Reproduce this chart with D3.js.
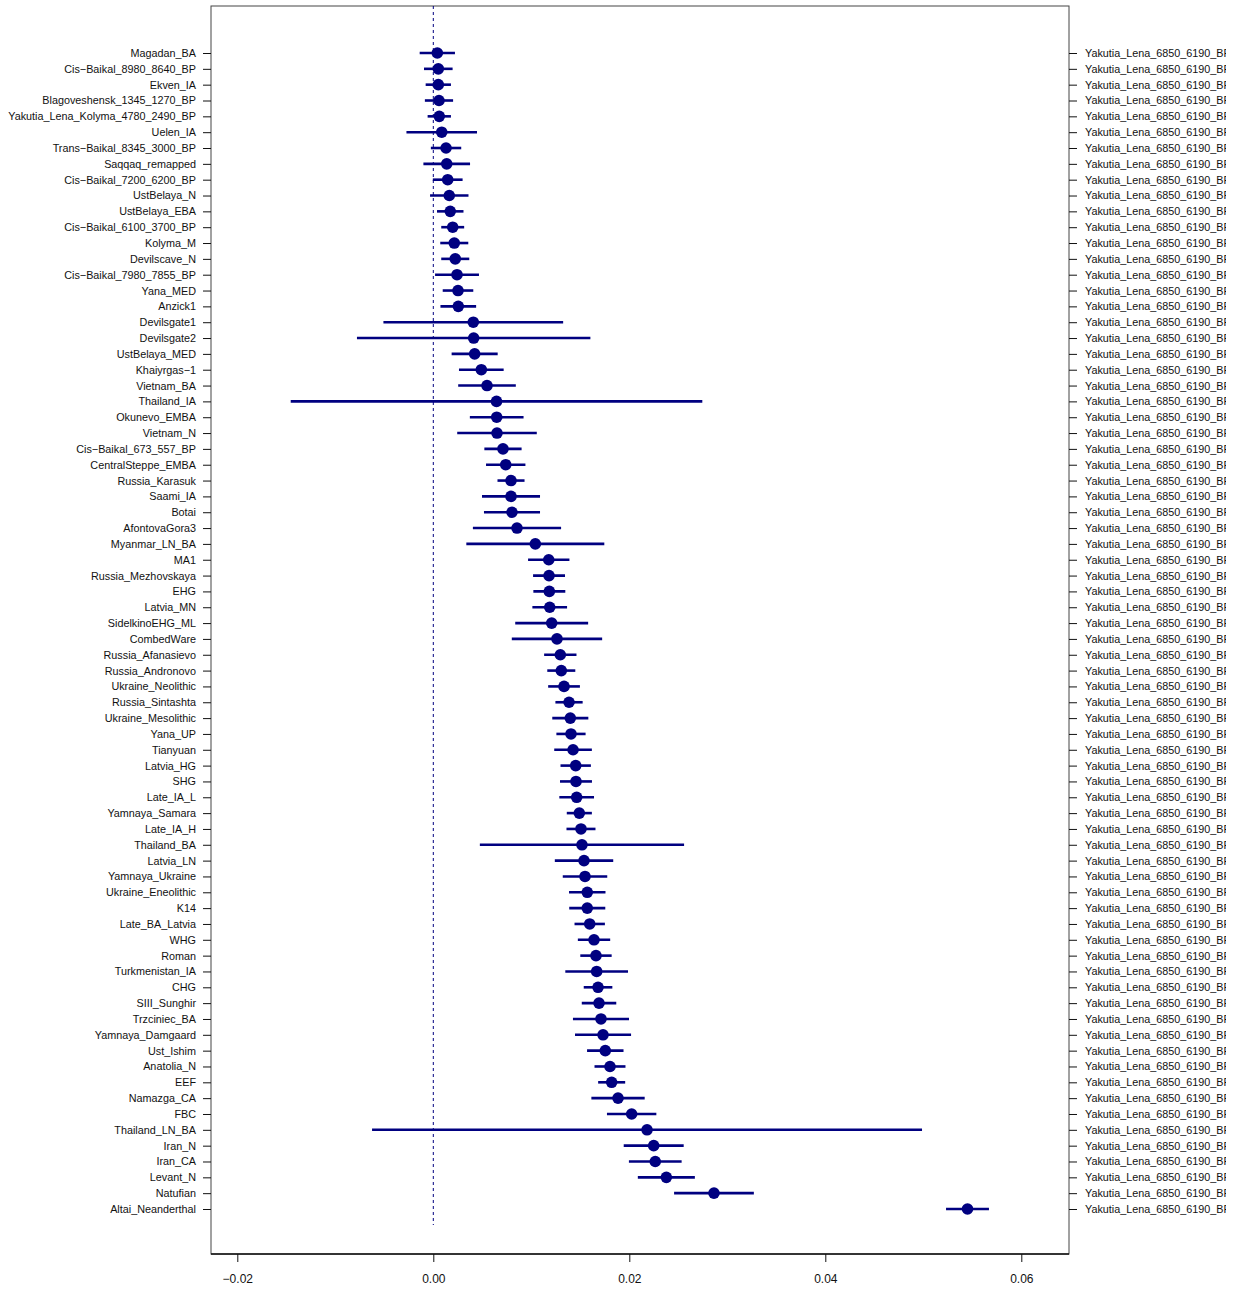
<!DOCTYPE html>
<html>
<head>
<meta charset="utf-8">
<script src="https://cdn.jsdelivr.net/npm/d3@7"></script>
<style>
  body { margin: 0; background: #fff; }
  text { font-family: "Liberation Sans", Arial, Helvetica, sans-serif; fill: #111; }
</style>
</head>
<body>
<div id="dot-chart"></div>
<script>
// population names, top to bottom
var populations = [
  "Magadan_BA", "Cis-Baikal_8980_8640_BP", "Ekven_IA", "Blagoveshensk_1345_1270_BP",
  "Yakutia_Lena_Kolyma_4780_2490_BP", "Uelen_IA", "Trans-Baikal_8345_3000_BP", "Saqqaq_remapped",
  "Cis-Baikal_7200_6200_BP", "UstBelaya_N", "UstBelaya_EBA", "Cis-Baikal_6100_3700_BP",
  "Kolyma_M", "Devilscave_N", "Cis-Baikal_7980_7855_BP", "Yana_MED", "Anzick1",
  "Devilsgate1", "Devilsgate2", "UstBelaya_MED", "Khaiyrgas-1", "Vietnam_BA", "Thailand_IA",
  "Okunevo_EMBA", "Vietnam_N", "Cis-Baikal_673_557_BP", "CentralSteppe_EMBA", "Russia_Karasuk",
  "Saami_IA", "Botai", "AfontovaGora3", "Myanmar_LN_BA", "MA1", "Russia_Mezhovskaya", "EHG",
  "Latvia_MN", "SidelkinoEHG_ML", "CombedWare", "Russia_Afanasievo", "Russia_Andronovo",
  "Ukraine_Neolithic", "Russia_Sintashta", "Ukraine_Mesolithic", "Yana_UP", "Tianyuan",
  "Latvia_HG", "SHG", "Late_IA_L", "Yamnaya_Samara", "Late_IA_H", "Thailand_BA", "Latvia_LN",
  "Yamnaya_Ukraine", "Ukraine_Eneolithic", "K14", "Late_BA_Latvia", "WHG", "Roman",
  "Turkmenistan_IA", "CHG", "SIII_Sunghir", "Trzciniec_BA", "Yamnaya_Damgaard", "Ust_Ishim",
  "Anatolia_N", "EEF", "Namazga_CA", "FBC", "Thailand_LN_BA", "Iran_N", "Iran_CA", "Levant_N",
  "Natufian", "Altai_Neanderthal"
];

// the fixed comparison population shown on the right
var reference = "Yakutia_Lena_6850_6190_BP";

// point estimates
var estimates = [
  0.00041, 0.00051, 0.00051, 0.00058, 0.00061, 0.00086, 0.00130, 0.00137, 0.00147, 0.00163,
  0.00173, 0.00198, 0.00214, 0.00224, 0.00242, 0.00252, 0.00255, 0.00408, 0.00412, 0.00422,
  0.00490, 0.00548, 0.00645, 0.00647, 0.00650, 0.00711, 0.00739, 0.00793, 0.00793, 0.00803,
  0.00854, 0.01041, 0.01178, 0.01181, 0.01184, 0.01188, 0.01208, 0.01262, 0.01296, 0.01306,
  0.01334, 0.01385, 0.01398, 0.01405, 0.01426, 0.01453, 0.01456, 0.01463, 0.01490, 0.01507,
  0.01517, 0.01538, 0.01548, 0.01571, 0.01571, 0.01596, 0.01640, 0.01660, 0.01667, 0.01681,
  0.01691, 0.01711, 0.01732, 0.01755, 0.01803, 0.01820, 0.01885, 0.02024, 0.02181, 0.02249,
  0.02265, 0.02378, 0.02864, 0.05451
];

// half width of each error bar
var halfWidths = [
  0.00180, 0.00146, 0.00129, 0.00144, 0.00119, 0.00360, 0.00155, 0.00238, 0.00152, 0.00196,
  0.00135, 0.00117, 0.00143, 0.00143, 0.00224, 0.00156, 0.00182, 0.00917, 0.01191, 0.00235,
  0.00228, 0.00294, 0.02100, 0.00274, 0.00406, 0.00190, 0.00201, 0.00138, 0.00296, 0.00286,
  0.00450, 0.00704, 0.00211, 0.00163, 0.00163, 0.00177, 0.00372, 0.00461, 0.00165, 0.00143,
  0.00162, 0.00139, 0.00184, 0.00149, 0.00192, 0.00155, 0.00163, 0.00177, 0.00128, 0.00148,
  0.01042, 0.00298, 0.00227, 0.00186, 0.00184, 0.00155, 0.00165, 0.00160, 0.00320, 0.00146,
  0.00176, 0.00286, 0.00286, 0.00186, 0.00158, 0.00138, 0.00272, 0.00252, 0.02806, 0.00306,
  0.00269, 0.00291, 0.00407, 0.00219
];

// x axis ticks
var xTicks = [-0.02, 0.00, 0.02, 0.04, 0.06];

// constructor for the dot chart with error bars
function DotChart() {
  var self = this;
  self.init();
}

DotChart.prototype.init = function () {
  var self = this;
  self.width = 1236;
  self.height = 1289;
  self.box = { left: 211, right: 1069, top: 6, bottom: 1254 };

  self.svg = d3.select("#dot-chart").append("svg")
    .attr("width", self.width)
    .attr("height", self.height);

  // x scale, ticks at -0.02 and 0.06 land at 237 and 1021
  self.x = d3.scaleLinear().domain([-0.02, 0.06]).range([237.3, 1021.3]);
  self.y = d3.scalePoint().domain(populations).range([53, 1209]);
};

DotChart.prototype.update = function () {
  var self = this;
  var x = self.x, y = self.y, box = self.box;
  var color = "#000080";
  var labelFont = "10.8px";

  var rows = populations.map(function (p, i) {
    return { name: p, est: estimates[i], lo: estimates[i] - halfWidths[i], hi: estimates[i] + halfWidths[i] };
  });

  // plot frame
  self.svg.append("rect")
    .attr("x", box.left).attr("y", box.top)
    .attr("width", box.right - box.left).attr("height", box.bottom - box.top)
    .attr("fill", "none").attr("stroke", "#444").attr("stroke-width", 1);

  // zero line
  self.svg.append("line")
    .attr("x1", x(0)).attr("x2", x(0))
    .attr("y1", box.top).attr("y2", y(populations[populations.length - 1]) + 16)
    .attr("stroke", color).attr("stroke-width", 1)
    .attr("stroke-dasharray", "3,3");

  // bottom axis
  var xAxis = self.svg.append("g")
    .attr("transform", "translate(0," + box.bottom + ")")
    .call(d3.axisBottom(x).tickValues(xTicks).tickFormat(d3.format(".2f")).tickSize(8).tickPadding(12));
  xAxis.select(".domain").remove();
  xAxis.append("line")
    .attr("x1", box.left).attr("x2", box.right)
    .attr("stroke", "#111").attr("stroke-width", 1.3);
  xAxis.selectAll("text")
    .style("font-size", "12px")
    .style("font-family", "'Liberation Sans', Arial, sans-serif")
    .attr("fill", "#111");
  xAxis.selectAll(".tick line").attr("stroke", "#111");

  // left axis with population names
  var leftAxis = self.svg.append("g")
    .attr("transform", "translate(" + box.left + ",0)")
    .call(d3.axisLeft(y).tickSize(8).tickPadding(7).tickFormat(function (d) { return d.replace(/-/g, "\u2212"); }));
  leftAxis.select(".domain").remove();

  // right axis repeats the reference population, clipped by the page edge
  self.svg.append("clipPath").attr("id", "right-clip")
    .append("rect").attr("x", 0).attr("y", 0).attr("width", 1226).attr("height", self.height);
  var rightAxis = self.svg.append("g")
    .attr("clip-path", "url(#right-clip)")
    .append("g")
    .attr("transform", "translate(" + box.right + ",0)")
    .call(d3.axisRight(y).tickSize(8).tickPadding(8).tickFormat(function () { return reference; }));
  rightAxis.select(".domain").remove();

  [leftAxis, rightAxis].forEach(function (g) {
    g.selectAll("text")
      .style("font-size", labelFont)
      .style("font-family", "'Liberation Sans', Arial, sans-serif")
      .attr("fill", "#111");
    g.selectAll(".tick line").attr("stroke", "#111");
  });

  // error bars
  self.svg.append("g").selectAll("line")
    .data(rows)
    .enter()
    .append("line")
    .attr("x1", function (d) { return x(d.lo); })
    .attr("x2", function (d) { return x(d.hi); })
    .attr("y1", function (d) { return y(d.name); })
    .attr("y2", function (d) { return y(d.name); })
    .attr("stroke", color)
    .attr("stroke-width", 2.6);

  // points
  self.svg.append("g").selectAll("circle")
    .data(rows)
    .enter()
    .append("circle")
    .attr("cx", function (d) { return x(d.est); })
    .attr("cy", function (d) { return y(d.name); })
    .attr("r", 5.8)
    .attr("fill", color);
};

var chart = new DotChart();
chart.update();
</script>
</body>
</html>
